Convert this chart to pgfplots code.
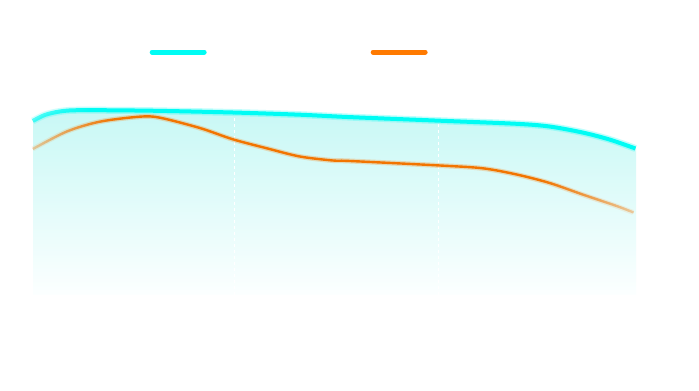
\documentclass[border=0pt]{standalone}
\usepackage{pgfplots}
\pgfplotsset{compat=1.18}
\usetikzlibrary{fadings}
\definecolor{cyanL}{HTML}{00FCF4}
\definecolor{orangeL}{HTML}{FF7A00}
\definecolor{fillTop}{HTML}{C8F8F5}
\definecolor{fillBot}{HTML}{FCFFFF}
\pgfdeclarehorizontalshading{fadeendsshade}{100bp}{color(0bp)=(pgftransparent!70); color(25bp)=(pgftransparent!70); color(32bp)=(pgftransparent!0); color(67bp)=(pgftransparent!0); color(75bp)=(pgftransparent!70); color(100bp)=(pgftransparent!70)}
\pgfdeclarefading{fadeends}{\pgfuseshading{fadeendsshade}}
\pgfdeclarehorizontalshading{fadeleftshade}{100bp}{color(0bp)=(pgftransparent!40); color(25bp)=(pgftransparent!40); color(30bp)=(pgftransparent!0); color(100bp)=(pgftransparent!0)}
\pgfdeclarefading{fadeleft}{\pgfuseshading{fadeleftshade}}
\pgfplotstableread{
x y
33 174
45 180
60 183.5
80 184.8
150 184.3
233 182.5
300 180.3
350 177.9
440 174.3
517 171.2
550 168.5
583 162.5
610 155.5
636 146.5
}\cyandata
\pgfplotstableread{
x y
33 146
67 163.5
100 173.3
140 178.3
160 177.3
200 167
233 155.7
267 146.7
300 138.5
333 134.5
350 134
440 129.5
483 126.7
517 120.5
550 112
583 100.5
617 89
634 82.5
}\orangedata
\begin{document}
\begin{tikzpicture}
\path[use as bounding box, fill=white] (0,0) rectangle (699pt,391pt);
\begin{axis}[
  at={(33pt,96pt)}, anchor=south west,
  scale only axis, width=603pt, height=195pt,
  xmin=33, xmax=636, ymin=0, ymax=195,
  axis line style={draw=none},
  xtick=\empty, ytick=\empty,
  clip=false,
  legend columns=2,
  legend style={at={(axis description cs:0.1935,1.246)}, anchor=west, draw=none, fill=none,
    inner sep=0pt, outer sep=0pt, nodes={inner sep=0pt, text=white},
    /tikz/every even column/.append style={column sep=163pt}},
  legend image code/.code={\draw[#1] (0pt,0pt) -- (52pt,0pt);},
]
\addlegendimage{cyanL, line width=5pt, line cap=round}
\addlegendentry{}
\addlegendimage{orangeL, line width=5pt, line cap=round}
\addlegendentry{}
\addplot[draw=none, top color=fillTop, bottom color=fillBot, smooth, tension=0.5, forget plot] table[x=x,y=y] {\cyandata} \closedcycle;
\addplot[white, dashed, line width=0.8pt, forget plot] coordinates {(234,0) (234,183)};
\addplot[white, dashed, line width=0.8pt, forget plot] coordinates {(438,0) (438,175)};
\addplot[cyanL, opacity=0.25, line width=7pt, smooth, tension=0.5, forget plot, path fading=fadeleft] table[x=x,y=y] {\cyandata};
\addplot[cyanL, line width=4pt, smooth, tension=0.5, forget plot, path fading=fadeleft] table[x=x,y=y] {\cyandata};
\addplot[orangeL, opacity=0.25, line width=5pt, smooth, tension=0.5, forget plot, path fading=fadeends] table[x=x,y=y] {\orangedata};
\addplot[orangeL!95!black, line width=2.4pt, smooth, tension=0.5, forget plot, path fading=fadeends] table[x=x,y=y] {\orangedata};
\end{axis}
\end{tikzpicture}
\end{document}
